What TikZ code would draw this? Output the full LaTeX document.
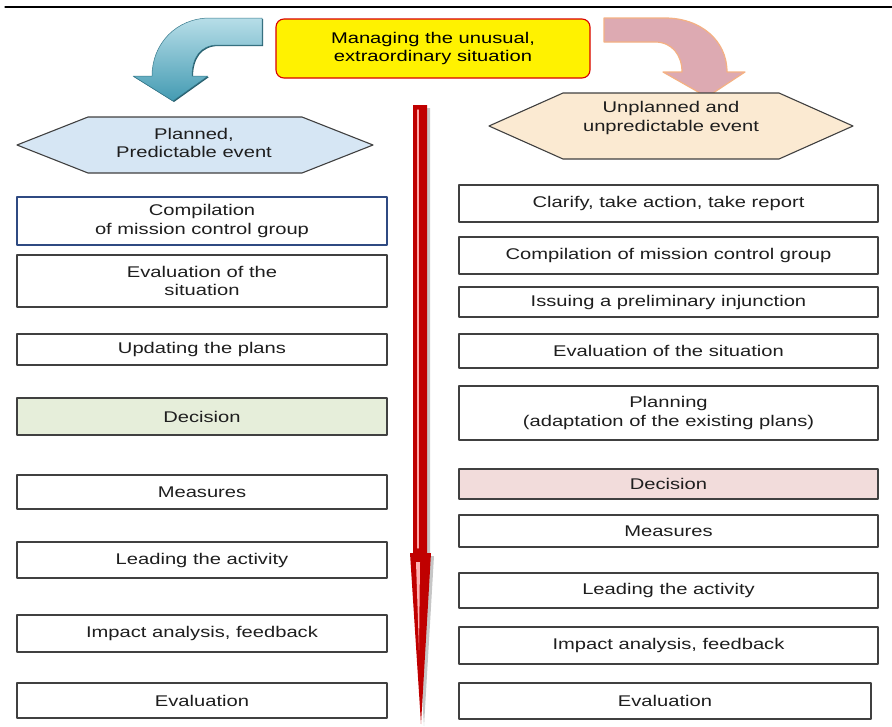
\documentclass[tikz,border=0pt]{standalone}
\usepackage{fontspec}
\setmainfont{Liberation Sans}[FakeStretch=1.3]
\usepackage{xcolor}
\usepackage{tikz}
\usetikzlibrary{arrows.meta}

\definecolor{boxgray}{HTML}{404040}
\definecolor{boxblue}{HTML}{2F4A82}
\definecolor{arrowblue}{HTML}{4BACC6}
\definecolor{arrowpink}{HTML}{DDAAB2}
\definecolor{pinkedge}{HTML}{F4B183}
\definecolor{hexblue}{HTML}{D6E6F4}
\definecolor{hexpeach}{HTML}{FBEAD2}
\definecolor{decgreen}{HTML}{E6EEDA}
\definecolor{decpink}{HTML}{F2DCDB}
\definecolor{darkred}{HTML}{C00000}
\definecolor{textgray}{HTML}{1E1E1E}

\tikzset{
  stepbox/.style={draw=boxgray, line width=1.1pt, fill=white, inner sep=0pt,
    align=center, text=textgray, font=\fontsize{15.5}{18.5}\selectfont},
  leftbox/.style={stepbox, minimum width=370pt},
  rightbox/.style={stepbox, minimum width=419pt},
  hexshape/.style={draw=boxgray, line width=1.1pt},
  hextext/.style={align=center, text=textgray, font=\fontsize{15.5}{18.5}\selectfont}
}

\begin{document}
\begin{tikzpicture}[x=1pt, y=-1pt, line cap=round, line join=round]
  \useasboundingbox (0,0) rectangle (892,726);
  \draw [line width=1.2pt] (5,7) -- (892,7);
  % title
  \node [draw=red!85!black, line width=1.1pt, fill=yellow, rounded corners=8pt,
    minimum width=314pt, minimum height=59pt, align=center,
    font=\fontsize{15.5}{18.5}\selectfont] (title) at (433,48.5)
    {Managing the unusual,\\extraordinary situation};
  % blue bent arrow
  \fill [arrowblue!55!black] (263,19) -- (211,19) .. controls (177,19) and (153,45) .. (153,77)
    -- (134,77) -- (174,102) -- (209,77) -- (193,77) .. controls (193,59) and (201,46) .. (219,46)
    -- (263,46) -- cycle;
  \draw [arrowblue!70!black, line width=0.5pt, top color=arrowblue!40!white, bottom color=arrowblue!90!black]
    (262,18) -- (210,18) .. controls (176,18) and (152,44) .. (152,76)
    -- (133,76) -- (173,101) -- (208,76) -- (192,76) .. controls (192,58) and (200,45) .. (218,45)
    -- (262,45) -- cycle;
  % pink bent arrow
  \draw [pinkedge, line width=1.2pt, fill=arrowpink]
    (604,18) -- (665,18) .. controls (700,18) and (727,40) .. (727,72)
    -- (745,72) -- (707,97) -- (663,72) -- (682,72) .. controls (682,55) and (672,42) .. (655,42)
    -- (604,42) -- cycle;
  % event hexagons
  \draw [hexshape, fill=hexblue] (17,145) -- (88,117) -- (302,117) -- (373,145)
    -- (302,173) -- (88,173) -- cycle;
  \node [hextext] (planned) at (194,143) {Planned,\\Predictable event};
  \draw [hexshape, fill=hexpeach] (489,126) -- (563,93) -- (779,93) -- (853,126)
    -- (779,159) -- (563,159) -- cycle;
  \node [hextext] (unplanned) at (671,118) {Unplanned and\\unpredictable event};
  % red time arrow
  \fill [gray!45] (416,108) -- (430,108) -- (430,556) -- (434,556) -- (424,726)
    -- (413,556) -- (416,556) -- cycle;
  \fill [darkred] (413,105) -- (427,105) -- (427,553) -- (431,553) -- (421,724)
    -- (410,553) -- (413,553) -- cycle;
  \draw [red!35!white, line width=1.4pt] (418,110) -- (418,548);
  \fill [red!30!white] (416,562) -- (420,562) -- (419,650) -- cycle;
  % planned branch
  \node [leftbox, draw=boxblue, minimum height=48pt] (lcomp) at (202,221)
    {Compilation\\of mission control group};
  \node [leftbox, minimum height=52pt] (leval) at (202,281) {Evaluation of the\\situation};
  \node [leftbox, minimum height=31pt] (lupd) at (202,349.5) {Updating the plans};
  \node [leftbox, fill=decgreen, minimum height=37pt] (ldec) at (202,416.5) {Decision};
  \node [leftbox, minimum height=34pt] (lmeas) at (202,492) {Measures};
  \node [leftbox, minimum height=36pt] (llead) at (202,560) {Leading the activity};
  \node [leftbox, minimum height=37pt] (limp) at (202,633.5) {Impact analysis, feedback};
  \node [leftbox, minimum height=35pt] (leva) at (202,700.5) {Evaluation};
  % unplanned branch
  \node [rightbox, minimum height=37pt] (rclar) at (668.5,203.5) {Clarify, take action, take report};
  \node [rightbox, minimum height=37pt] (rcomp) at (668.5,255.5) {Compilation of mission control group};
  \node [rightbox, minimum height=30pt] (riss) at (668.5,302) {Issuing a preliminary injunction};
  \node [rightbox, minimum height=34pt] (reval) at (668.5,351) {Evaluation of the situation};
  \node [rightbox, minimum height=54pt] (rplan) at (668.5,413)
    {Planning\\(adaptation of the existing plans)};
  \node [rightbox, fill=decpink, minimum height=30pt] (rdec) at (668.5,484) {Decision};
  \node [rightbox, minimum height=32pt] (rmeas) at (668.5,531) {Measures};
  \node [rightbox, minimum height=35pt] (rlead) at (668.5,590.5) {Leading the activity};
  \node [rightbox, minimum height=37pt] (rimp) at (668.5,645.5) {Impact analysis, feedback};
  \node [stepbox, minimum width=412pt, minimum height=36pt] (reva) at (665,701) {Evaluation};
\end{tikzpicture}
\end{document}
